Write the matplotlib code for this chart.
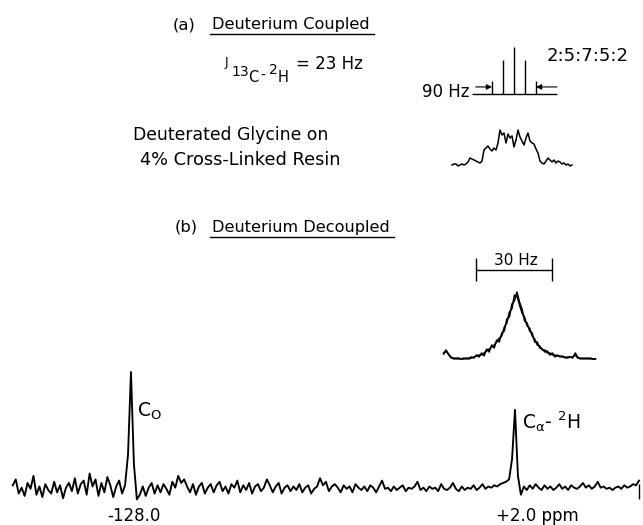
import numpy as np
import matplotlib.pyplot as plt

W, H = 643, 525  # output size, pixels

# ---- values ----

# bottom trace: 13C spectrum, deuterium decoupled, one point per ppm
ppm = np.arange(-168, 45)
spectrum = [
    4, 9, -3, 2, -5, 6, 1, 12, -4, 3,
    -6, 5, 0, -3, 7, -2, 4, -7, 2, 6,
    -1, 10, -3, 5, 8, -4, 14, 3, 9, -5,
    6, -2, 11, 4, -6, 3, 8, -3, 4, 30,
    100, 22, -8, -4, 3, -5, 2, 6, -3, 4,
    -2, 5, 1, -4, 7, 2, 12, 6, 9, 3,
    -2, 5, -4, 3, 6, -3, 2, 5, -2, 4,
    7, -1, 3, -3, 5, 2, 8, -2, 4, 0,
    6, -3, 3, 5, -1, 2, 9, 4, -2, 3,
    6, -3, 2, 4, -1, 3, 0, 5, -2, 2,
    4, -3, 1, 3, 10, 4, 7, -1, 3, 5,
    2, -2, 4, 1, 3, -2, 5, 2, 0, 3,
    -1, 4, 2, -2, 3, 8, 1, 2, -1, 3,
    0, 2, 4, -1, 2, 1, 3, 7, 0, 2,
    -1, 3, 1, 2, -1, 5, 1, 0, 2, 6,
    1, -1, 3, 0, 2, 1, 4, 0, 2, 5,
    1, 3, 2, 4, 3, 5, 6, 7, 9, 26,
    68, 12, -4, 3, 0, 4, 1, 5, 2, 0,
    4, 1, 3, 0, 2, 5, 1, 3, 0, 4,
    2, 1, 3, 6, 2, 4, 1, 3, 7, 2,
    3, 1, 2, 0, 2, 3, 1, 4, 2, 3,
    5, 4, 8,
]
co_ppm = -128.0
ca_ppm = 2.0

# (a) expected 13C-2H multiplet, J = 23 Hz, 2:5:7:5:2
stick_hz = [-46, -23, 0, 23, 46]
stick_ratio = [2, 5, 7, 5, 2]

# (a) observed coupled Ca line
coupled_hz = np.arange(-93, 90, 3)
coupled = [
    0, 1, 1, -1, 0, 1, 0, 1, 3, 7,
    6, 5, 4, 3, 2, 4, 15, 17, 19, 16,
    14, 17, 15, 22, 35, 30, 32, 22, 31, 27,
    29, 18, 25, 35, 28, 24, 20, 27, 32, 24,
    22, 21, 16, 12, 4, 2, 1, 4, 7, 5,
    3, 5, 2, 4, 3, 1, 2, 0, 1, -1,
    0,
]

# (b) decoupled Ca line, two overlaid scans
decoupled_hz = np.arange(-29, 32)
decoupled_1 = [
    6, 9, 4, 2, 0, 1, 0, 0, 1, 0,
    1, 2, 1, 4, 2, 6, 3, 10, 7, 14,
    11, 19, 17, 26, 28, 40, 42, 55, 58, 67,
    57, 50, 38, 36, 28, 26, 17, 17, 11, 10,
    7, 8, 4, 6, 2, 4, 2, 3, 1, 2,
    2, 1, 6, 2, 0, 1, 0, 1, 0, 0,
    0,
]
decoupled_2 = [
    5, 8, 5, 1, 1, 0, 1, 0, 0, 1,
    0, 1, 2, 3, 4, 4, 6, 8, 10, 12,
    14, 17, 21, 23, 32, 36, 47, 50, 64, 63,
    54, 46, 42, 33, 31, 23, 20, 14, 13, 9,
    9, 6, 6, 4, 4, 3, 3, 2, 2, 1,
    2, 2, 4, 1, 1, 0, 1, 0, 1, 0,
    0,
]
linewidth_hz = 30

plt.rcParams["font.family"] = "DejaVu Sans"
plt.rcParams["mathtext.default"] = "regular"

fig = plt.figure(figsize=(W / 100, H / 100), dpi=100)

# overlay in pixel units for the captions
ax = fig.add_axes([0, 0, 1, 1])
ax.set_xlim(0, W)
ax.set_ylim(H, 0)
ax.axis("off")


def panel(left, right, top, bottom, xlim, ylim):
    a = fig.add_axes([left / W, 1 - bottom / H, (right - left) / W, (bottom - top) / H])
    a.set_xlim(*xlim)
    a.set_ylim(*ylim)
    a.axis("off")
    return a


def underline(t, y):
    fig.canvas.draw()
    bb = t.get_window_extent()
    ax.plot([bb.x0 - 2, bb.x1 + 4], [y, y], color="k", lw=1.0)


# bottom spectrum
ax_b = panel(6.9, 642.0, 360, 505, (-170, 45), (-12.7, 110.2))
ax_b.plot(ppm, spectrum, color="k", lw=1.35)
ax_b.vlines(ppm[-1], -8, 5, color="k", lw=1.0)
ax_b.text(co_ppm + 1, -26.5, "-128.0", ha="center", va="baseline", fontsize=12)
ax_b.text(ca_ppm - 6.5, -26.5, "+2.0 ppm", ha="left", va="baseline", fontsize=12)
ax_b.text(co_ppm + 2, 62, r"C$_{O}$", ha="left", va="baseline", fontsize=13.5)
ax_b.text(ca_ppm + 2.5, 52, r"C$_{\alpha}$- $^{2}$H", ha="left", va="baseline", fontsize=13.5)

# (a) stick pattern
ax_s = panel(466, 562, 38, 100, (-100.4, 100.4), (-0.9, 8.36))
ax_s.vlines(stick_hz, 0, stick_ratio, color="k", lw=1.0)
ax_s.hlines(0, -88, 90, color="k", lw=1.0)
arrow = dict(arrowstyle="-|>", color="k", lw=0.8, mutation_scale=8, shrinkA=0, shrinkB=0)
ax_s.annotate("", xy=(stick_hz[0], 1.05), xytext=(-80, 1.05), arrowprops=arrow)
ax_s.annotate("", xy=(stick_hz[-1], 1.05), xytext=(90, 1.05), arrowprops=arrow)

# (a) coupled trace
ax_c = panel(448, 578, 120, 172, (-99, 96), (-7, 45))
ax_c.plot(coupled_hz, coupled, color="k", lw=1.1)

# (b) decoupled trace
ax_d = panel(438, 600, 250, 365, (-31.2, 32.8), (-6, 109))
ax_d.plot(decoupled_hz, decoupled_1, color="k", lw=1.1)
ax_d.plot(decoupled_hz, decoupled_2, color="k", lw=1.1)
x0, x1 = -16, -16 + linewidth_hz
ax_d.hlines(89, x0, x1, color="k", lw=1.0)
ax_d.vlines([x0, x1], 78, 101, color="k", lw=1.0)
ax_d.text((x0 + x1) / 2 + 0.5, 94, "30 Hz", ha="center", va="baseline", fontsize=11)

# captions
ax.text(173, 29.5, "(a)", fontsize=11.8, va="baseline")
ta = ax.text(212, 29.5, "Deuterium Coupled", fontsize=11.6, va="baseline")

# J(13C-2H) written out piece by piece like the lettering
for s, x, y, fs in [("J", 225, 66, 9), ("13", 231, 76, 10), ("C", 248, 82, 10.5),
                    ("-", 260, 80, 10), ("2", 269, 74, 10), ("H", 278, 82, 10.5)]:
    ax.text(x, y, s, fontsize=fs, va="baseline")
ax.text(296, 69, "= 23 Hz", fontsize=12, va="baseline")

ax.text(547, 61, "2:5:7:5:2", fontsize=13, va="baseline")
ax.text(470, 97, "90 Hz", fontsize=12, ha="right", va="baseline")
ax.text(133, 140, "Deuterated Glycine on", fontsize=12.45, va="baseline")
ax.text(140, 165, "4% Cross-Linked Resin", fontsize=12.8, va="baseline")
ax.text(175, 232, "(b)", fontsize=11.8, va="baseline")
tb = ax.text(212, 232, "Deuterium Decoupled", fontsize=11.6, va="baseline")

underline(ta, 33.5)
underline(tb, 237)

fig.savefig("out.png", dpi=100)
